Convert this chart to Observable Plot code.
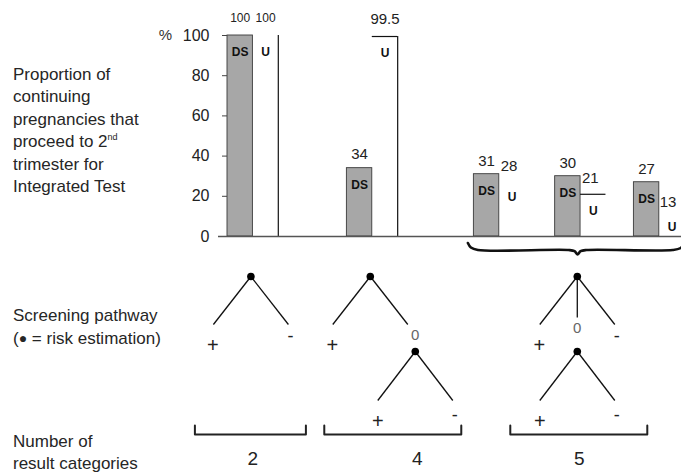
<!DOCTYPE html>
<html><head><meta charset="utf-8">
<script src="https://cdn.jsdelivr.net/npm/d3@7"></script>
<script src="https://cdn.jsdelivr.net/npm/@observablehq/plot@0.6"></script>
<style>
html,body{margin:0;padding:0;background:#fff;}
#wrap{position:relative;width:681px;height:476px;overflow:hidden;font-family:"Liberation Sans",Arial,sans-serif;color:#262626;}
#wrap svg{position:absolute;left:0;top:0;}
.lab{position:absolute;left:13px;font-size:17px;line-height:22.5px;white-space:nowrap;}
.lab sup{font-size:9px;vertical-align:7px;line-height:0;}
.dot{font-size:14px;vertical-align:1px;line-height:0;}
</style></head><body>
<div id="wrap"></div>
<script>
// ---- data ----
const groupNames = ["2 categories", "4 categories", "5 categories A", "5 categories B", "5 categories C"];
const dsValues = [100, 34, 31, 30, 27];
const uValues = [100, 99.5, 28, 21, 13];
const seriesNames = ["DS", "U"];
const yTicks = [0, 20, 40, 60, 80, 100];
const axisUnit = "%";
const pathwayTop = [["+", "-"], ["+", "0"], ["+", "0", "-"]];
const pathwaySub = [[], ["+", "-"], ["+", "-"]];
const resultCategories = [2, 4, 5];
const yTitleLines = ["Proportion of", "continuing", "pregnancies that", "proceed to 2<sup>nd</sup>", "trimester for", "Integrated Test"];
const pathwayTitle = ["Screening pathway", "(<span class='dot'>&#9679;</span> = risk estimation)"];
const countTitle = ["Number of", "result categories"];

// ---- layout (pixels) ----
const L = {x0: 227, bw: 25.4, y0: 236, ppu: 2.01, gaps: [0, 2.7, 3.0, 1.2, 1.1],
  treeGroups: [[0, 0], [1, 1], [2, 4]], treeShift: -2,
  apexDy: 40, legDx: 37.5, legDy: 48, midDy: 41, subDy: 75, subLegDx: 37.5, subLegDy: 49,
  bracketDy: 198, bracketTick: 9, bracketLabelDy: 222, bracketSpan: [[-56, 55], [-46, 91], [-67, 70]],
  valueGap: [17, 14, 13, 13, 13], uValueGap: [17, 17, 14, 16, 8], uValueShift: [0, 0, -3, -3, -4]};
const sym = {"+": {dx: -0.5, dy: 21, size: 20, weight: "normal", fill: "#222"},
             "-": {dx: 2, dy: 12, size: 18, weight: "bold", fill: "#222"},
             "0": {dx: 7.5, dy: 11, size: 15, weight: "normal", fill: "#666"}};
const subSym = {"+": {dx: 0, dy: 21}, "-": {dx: 2, dy: 15}};

const ux = px => (px - L.x0) / L.bw;      // pixel -> bar units
const uy = py => (L.y0 - py) / L.ppu;     // pixel -> percent units

// group starts in bar units
const groupStart = [];
let cur = 0;
L.gaps.forEach((g, i) => { cur += g; groupStart.push(cur); cur += 2; });

const bars = [];
groupNames.forEach((g, i) => {
  bars.push({group: g, gi: i, series: seriesNames[0], value: dsValues[i], x1: groupStart[i], x2: groupStart[i] + 1});
  bars.push({group: g, gi: i, series: seriesNames[1], value: uValues[i], x1: groupStart[i] + 1, x2: groupStart[i] + 2});
});
const dsBars = bars.filter(d => d.series === "DS");
const uBars = bars.filter(d => d.series === "U");

// trees
const links = [], dots = [], syms = [], brackets = [], bracketLabels = [];
pathwayTop.forEach((branches, t) => {
  const [ga, gb] = L.treeGroups[t];
  const cx = (groupStart[ga] + groupStart[gb] + 2) / 2;
  const ax = L.x0 + cx * L.bw + L.treeShift, ay = L.y0 + L.apexDy;
  dots.push({x: ux(ax), y: uy(ay)});
  let subX = ax;
  branches.forEach((b, k) => {
    const n = branches.length;
    const middle = n === 3 && k === 1;
    const bx = ax + (k === 0 ? -L.legDx : (middle ? 0 : L.legDx));
    const by = ay + (middle ? L.midDy : L.legDy);
    links.push({x1: ux(ax), y1: uy(ay), x2: ux(bx), y2: uy(by)});
    const s = sym[b];
    const sx = bx + (b === "0" && middle ? 0 : s.dx);
    syms.push({x: ux(sx), y: uy(by + s.dy), t: b, size: s.size, weight: s.weight, fill: s.fill});
    if (b === "0") subX = sx;
  });
  let labelX = ax;
  if (pathwaySub[t].length) {
    const sy = ay + L.subDy;
    dots.push({x: ux(subX), y: uy(sy)});
    pathwaySub[t].forEach((b, k) => {
      const bx = subX + (k === 0 ? -L.subLegDx : L.subLegDx), by = sy + L.subLegDy;
      links.push({x1: ux(subX), y1: uy(sy), x2: ux(bx), y2: uy(by)});
      const s = sym[b];
      syms.push({x: ux(bx + subSym[b].dx), y: uy(by + subSym[b].dy), t: b, size: s.size, weight: s.weight, fill: s.fill});
    });
    labelX = subX;
  }
  const [s0, s1] = L.bracketSpan[t];
  const byy = L.y0 + L.bracketDy;
  [[ax + s0, byy - L.bracketTick], [ax + s0, byy], [ax + s1, byy], [ax + s1, byy - L.bracketTick]]
    .forEach(([px, py]) => brackets.push({k: t, x: ux(px), y: uy(py)}));
  bracketLabels.push({x: ux(labelX + 2), y: uy(L.y0 + L.bracketLabelDy), t: String(resultCategories[t])});
});

// brace over the 5-category groups
const bL = L.x0 + groupStart[2] * L.bw - 6, bR = L.x0 + (groupStart[4] + 2) * L.bw;
const bM = L.x0 + (groupStart[3] + 1) * L.bw - 3;
const braceY = L.y0 + 13.5;
const bracePx = [[bL, braceY - 7], [bL + 3, braceY - 2.5], [bL + 10, braceY], [bM - 9, braceY], [bM - 3, braceY + 1.2], [bM, braceY + 4.5],
  [bM + 3, braceY + 1.2], [bM + 9, braceY], [bR - 12, braceY], [bR - 4, braceY - 2], [bR, braceY - 7]];
const brace = bracePx.map(([x, y]) => ({x: ux(x), y: uy(y)}));

const valueLabelY = d => d.value + (d.series === "U" ? L.uValueGap[d.gi] : L.valueGap[d.gi]) / L.ppu;
const valueLabelX = d => (d.x1 + d.x2) / 2 + (d.series === "U" ? L.uValueShift[d.gi] : 0) / L.bw;

const font = "Liberation Sans, Arial, sans-serif";
const chart = Plot.plot({
  width: 681, height: 476, margin: 0,
  style: {fontFamily: font, background: "transparent", overflow: "visible"},
  x: {type: "linear", domain: [0, 1], range: [L.x0, L.x0 + L.bw], axis: null},
  y: {type: "linear", domain: [0, 100], range: [L.y0, L.y0 - 100 * L.ppu], axis: null},
  marks: [
    Plot.rect(dsBars, {x1: "x1", x2: "x2", y1: 0, y2: "value", fill: "#a7a7a7", stroke: "#3a3a3a", strokeWidth: 0.9}),
    Plot.ruleY(uBars.filter(d => d.gi === 1 || d.gi === 3), {y: "value", x1: "x1", x2: "x2", stroke: "#111", strokeWidth: 1.2}),
    Plot.ruleX(uBars.filter(d => d.gi <= 1), {x: "x2", y1: 0, y2: "value", stroke: "#111", strokeWidth: 1.2}),
    Plot.ruleY([0], {x1: ux(218), x2: ux(690), stroke: "#555", strokeWidth: 1.4}),
    Plot.ruleY(yTicks.filter(d => d > 0), {x1: ux(L.x0 - 5), x2: 0, stroke: "#444", strokeWidth: 1}),
    Plot.text(yTicks, {x: 0, y: d => d, text: d => String(d), dx: -18, textAnchor: "end", fontSize: 16, fill: "#222"}),
    Plot.text([axisUnit], {x: 0, y: 100, text: d => d, dx: -62, fontSize: 15, fill: "#333"}),
    Plot.text(bars, {x: valueLabelX, y: valueLabelY, text: d => String(d.value),
      fontSize: d => d.gi === 0 ? 12 : 15, fill: "#222"}),
    Plot.text(bars, {x: d => (d.x1 + d.x2) / 2, y: "value", text: "series", dy: 17, fontSize: 12, fontWeight: "bold", fill: "#111"}),
    Plot.line(brace, {x: "x", y: "y", curve: "catmull-rom", stroke: "#111", strokeWidth: 2.6}),
    Plot.link(links, {x1: "x1", y1: "y1", x2: "x2", y2: "y2", stroke: "#111", strokeWidth: 1.3}),
    Plot.dot(dots, {x: "x", y: "y", r: 3.8, fill: "#000"}),
    Plot.text(syms, {x: "x", y: "y", text: "t", fontSize: d => d.size, fontWeight: d => d.weight, fill: d => d.fill}),
    Plot.line(brackets, {x: "x", y: "y", z: "k", stroke: "#222", strokeWidth: 2}),
    Plot.text(bracketLabels, {x: "x", y: "y", text: "t", fontSize: 19, fill: "#222"})
  ]
});
const wrap = document.getElementById("wrap");
wrap.appendChild(chart);
function addLabel(lines, top) {
  const d = document.createElement("div");
  d.className = "lab"; d.style.top = top + "px";
  d.innerHTML = lines.join("<br>");
  wrap.appendChild(d);
}
addLabel(yTitleLines, 63.5);
addLabel(pathwayTitle, 305);
addLabel(countTitle, 430.5);
</script>
</body></html>
